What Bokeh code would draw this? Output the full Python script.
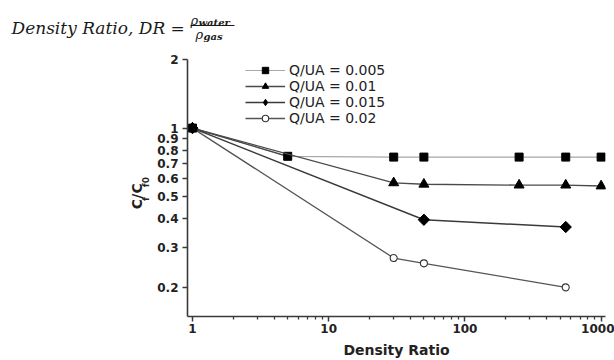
import math
from bokeh.plotting import figure
from bokeh.models import (Legend, LegendItem, FixedTicker, CustomJSTickFormatter, Range1d)
from bokeh.layouts import column, row
from bokeh.core.properties import value
from bokeh.embed import file_html
from bokeh.resources import INLINE

# ---- data ----
dr_005 = [1, 5, 30, 50, 250, 550, 1000]
cf_005 = [1.0, 0.752, 0.746, 0.746, 0.746, 0.746, 0.746]
dr_01 = [1, 30, 50, 250, 550, 1000]
cf_01 = [1.0, 0.575, 0.567, 0.562, 0.562, 0.557]
dr_015 = [1, 50, 550]
cf_015 = [1.0, 0.396, 0.368]
dr_02 = [1, 30, 50, 550]
cf_02 = [1.0, 0.269, 0.255, 0.200]
labels = ["Q/UA = 0.005", "Q/UA = 0.01", "Q/UA = 0.015", "Q/UA = 0.02"]
x_ticks = [1, 10, 100, 1000]
x_minor = [2, 3, 4, 5, 6, 7, 8, 9, 20, 30, 40, 50, 60, 70, 80, 90,
           200, 300, 400, 500, 600, 700, 800, 900]
y_ticks = [0.2, 0.3, 0.4, 0.5, 0.6, 0.7, 0.8, 0.9, 1, 2]

W, H = 614, 360
HEAD_H = 46          # header strip
LEFT_W = 151         # strip holding the rotated y label
MAIN_W, MAIN_H = W - LEFT_W, H - HEAD_H
FL, FB = 187, 316    # frame left / bottom in page px


def blank_fig(w, h):
    f = figure(width=w, height=h, x_range=Range1d(0, w), y_range=Range1d(0, h),
               output_backend="svg", toolbar_location=None,
               x_axis_location=None, y_axis_location=None,
               min_border=0, min_border_left=0, min_border_right=0,
               min_border_top=0, min_border_bottom=0)
    f.outline_line_color = None
    f.grid.visible = False
    f.background_fill_color = "white"
    f.border_fill_color = "white"
    return f


def txt(f, h, top, text, px, py, size, style="normal", font="DejaVu Sans",
        angle=0.0, color="#222222"):
    # px, py: page pixel position of the text anchor (y measured from the top)
    f.text(x=[px], y=[h - (py - top)], text=[text], angle=angle,
           text_font=value(font), text_font_size=value(size),
           text_font_style=value(style), text_color=color,
           text_align=value("left"), text_baseline=value("alphabetic"))


# ---- header: Density Ratio, DR = rho_water / rho_gas ----
head = blank_fig(W, HEAD_H)
SERIF = "DejaVu Serif"
INK = "#1a1a1a"
txt(head, HEAD_H, 0, "Density Ratio, DR =", 11, 27, "17px", "italic", SERIF, color=INK)
txt(head, HEAD_H, 0, "\u03c1", 190, 20, "13px", "italic", SERIF, color=INK)
txt(head, HEAD_H, 0, "water", 198, 22, "10px", "bold italic", SERIF, color=INK)
head.segment(x0=[190], y0=[HEAD_H - 25], x1=[234], y1=[HEAD_H - 25], line_color=INK,
             line_width=1)
txt(head, HEAD_H, 0, "\u03c1", 195, 34, "13px", "italic", SERIF, color=INK)
txt(head, HEAD_H, 0, "gas", 203, 36, "10px", "bold italic", SERIF, color=INK)

# ---- left strip: rotated y label  C_f / C_f0 ----
left = blank_fig(LEFT_W, MAIN_H)
A = math.pi / 2
Y0 = 229
txt(left, MAIN_H, HEAD_H, "C", 136, Y0, "14px", "bold", angle=A)
txt(left, MAIN_H, HEAD_H, "f", 145, Y0 - 10, "9px", "bold", angle=A)
txt(left, MAIN_H, HEAD_H, "/C", 136, Y0 - 13, "14px", "bold", angle=A)
txt(left, MAIN_H, HEAD_H, "f0", 145, Y0 - 27, "9px", "bold", angle=A)

# ---- main plot ----
p = figure(width=MAIN_W, height=MAIN_H, x_axis_type="log", y_axis_type="log",
           x_range=Range1d(0.919, 1077), y_range=Range1d(0.149, 2.0),
           output_backend="svg", toolbar_location=None,
           min_border_left=FL - LEFT_W, min_border_right=9, min_border_top=59 - HEAD_H,
           min_border_bottom=H - FB)
p.outline_line_color = None
p.xgrid.visible = False
p.ygrid.visible = False
p.background_fill_color = "white"
p.border_fill_color = "white"

for ax in (p.xaxis[0], p.yaxis[0]):
    ax.axis_line_color = "#3a3a3a"
    ax.axis_line_width = 1.6
    ax.major_tick_line_color = "#3a3a3a"
    ax.major_tick_line_width = 1.5
    ax.minor_tick_line_color = "#3a3a3a"
    ax.minor_tick_line_width = 1.3
    ax.major_tick_in = 0
    ax.major_tick_out = 5
    ax.minor_tick_in = 0
    ax.minor_tick_out = 3
    ax.major_label_text_font = "DejaVu Sans"
    ax.major_label_text_font_style = "bold"
    ax.major_label_text_font_size = "12px"
    ax.major_label_text_color = "#222222"

p.xaxis.ticker = FixedTicker(ticks=x_ticks, minor_ticks=x_minor)
p.xaxis.formatter = CustomJSTickFormatter(code="return Math.round(tick).toString();")
p.xaxis.major_label_standoff = 2
p.xaxis.axis_label = "Density Ratio"
p.xaxis.axis_label_text_font = "DejaVu Sans"
p.xaxis.axis_label_text_font_style = "bold"
p.xaxis.axis_label_text_font_size = "14px"
p.xaxis.axis_label_text_color = "#222222"
p.xaxis.axis_label_standoff = 6

p.yaxis.ticker = FixedTicker(ticks=y_ticks, minor_ticks=[])
p.yaxis.formatter = CustomJSTickFormatter(code="return (Math.round(tick*10)/10).toString();")
p.yaxis.major_label_standoff = 4

# series (drawn so that the diamond sits on top at DR = 1)
l4 = p.line(dr_02, cf_02, line_color="#555555", line_width=1.3)
m4 = p.scatter(dr_02, cf_02, marker="circle", size=7, fill_color="white", line_color="#333333",
               line_width=1.1)
l1 = p.line(dr_005, cf_005, line_color="#a8a8a8", line_width=1.2)
p.line(dr_005[:2], cf_005[:2], line_color="#444444", line_width=1.3)
m1 = p.scatter(dr_005, cf_005, marker="square", size=8, fill_color="black", line_color="black")
l2 = p.line(dr_01, cf_01, line_color="#4a4a4a", line_width=1.3)
m2 = p.scatter(dr_01, cf_01, marker="triangle", size=10, fill_color="black", line_color="black")
l3 = p.line(dr_015, cf_015, line_color="#3a3a3a", line_width=1.5)
# narrow diamond used as legend key (fully covered by the wide diamond below)
m3_key = p.scatter(dr_015, cf_015, marker="diamond", size=10, fill_color="black",
                   line_color="black")
m3 = p.scatter(dr_015, cf_015, marker="square", angle=math.pi / 4, size=8,
               fill_color="black", line_color="black")

legend = Legend(items=[LegendItem(label=labels[0], renderers=[l1, m1]),
                       LegendItem(label=labels[1], renderers=[l2, m2]),
                       LegendItem(label=labels[2], renderers=[l3, m3_key]),
                       LegendItem(label=labels[3], renderers=[l4, m4])],
                location=(245 - FL, FB - 126), padding=0, margin=0,
                border_line_color=None, background_fill_alpha=0,
                label_text_font="DejaVu Sans", label_text_font_size="14px",
                label_text_color="#222222",
                glyph_width=40, glyph_height=16, label_height=16,
                label_standoff=4, spacing=0)
p.add_layout(legend)

layout = column(head, row(left, p, spacing=0), spacing=0)
open("out.html", "w").write(file_html(layout, INLINE))
